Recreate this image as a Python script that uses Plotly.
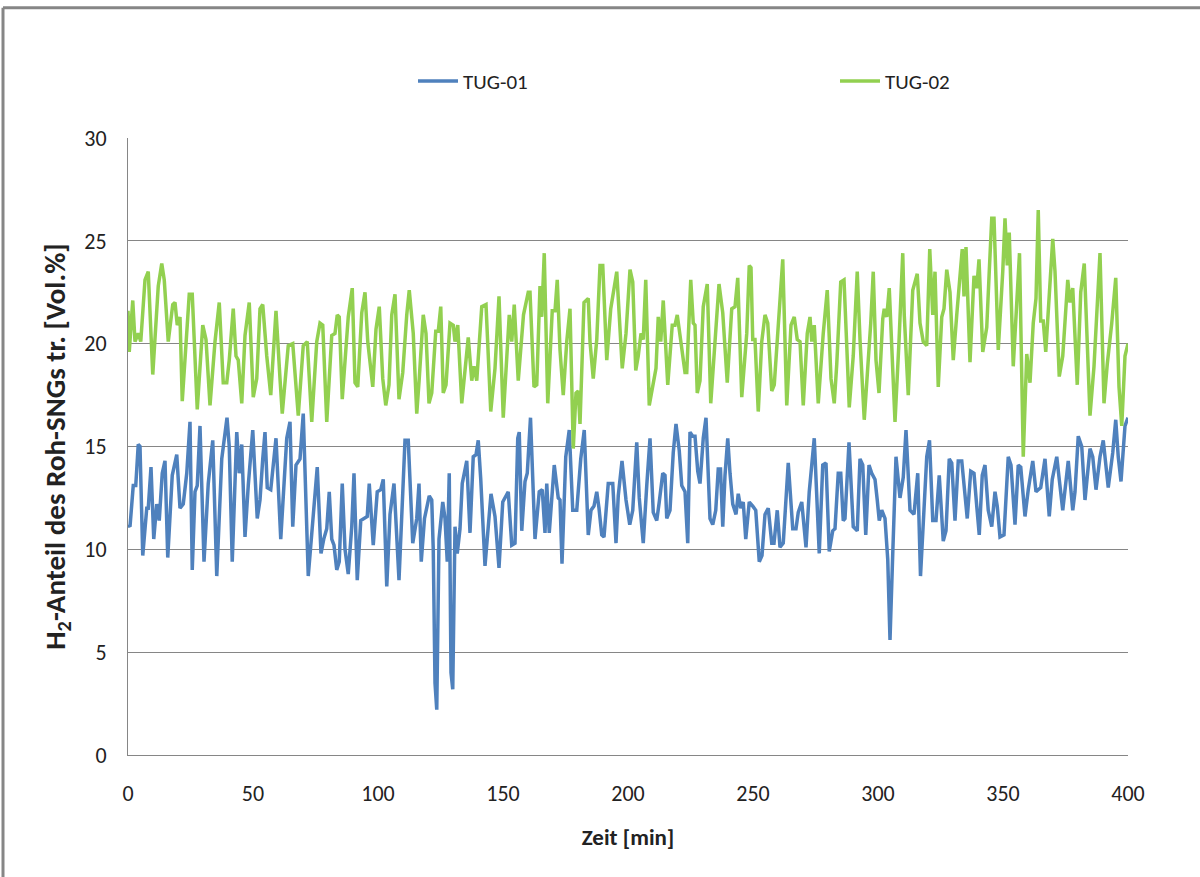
import plotly.graph_objects as go

# TUG-01 (blue) : time [min], H2 [Vol.%]
t1 = [0, 0.8, 2.1, 3.1, 4.1, 4.8, 5.9, 7.5, 8.1, 9.2, 10.3, 11.5, 12.5, 13.7, 14.8, 15.9, 17.7, 19.5, 20.8, 22.1,
      23.5, 24.8, 25.7, 26.8, 27.7, 28.8, 30.4, 32.1, 33.9, 35.5, 37.5, 39.6, 40.5, 41.7, 43.5, 44.5, 45.5, 46.8, 48.1, 49.9,
      51.7, 52.8, 53.9, 54.8, 55.7, 57.1, 59.2, 61.1, 63.5, 64.8, 65.9, 67.2, 68.8, 70.1, 72.1, 74.1, 75.7, 77.2, 78.3, 79.5,
      80.5, 81.5, 82.4, 83.5, 84.5, 85.7, 86.8, 88.1, 89.5, 90.4, 91.7, 93.1, 94.4, 95.7, 96.5, 98.1, 99.7, 101.1, 102.1, 103.5,
      104.8, 106.4, 108.4, 109.9, 110.8, 112.1, 112.5, 113.9, 115.5, 116.4, 117.3, 118.6, 120.5, 121.5, 122.1, 122.8, 123.5, 124.4, 125.9, 126.8,
      127.7, 128.5, 129.2, 129.9, 130.8, 131.7, 132.8, 133.7, 135.5, 136.8, 138.1, 139.2, 140.1, 141.1, 142.8, 145.2, 146.8, 148.4, 149.9, 152.1,
      153.5, 154.8, 155.9, 156.5, 157.5, 158.8, 159.7, 161.0, 162.8, 164.5, 165.7, 166.8, 167.5, 168.5, 170.5, 172.1, 172.8, 173.6, 175.1, 176.5,
      177.9, 179.5, 181.1, 182.5, 184.1, 185.2, 186.4, 187.5, 188.4, 189.5, 190.4, 192.1, 193.9, 195.2, 196.1, 197.6, 199.2, 200.7, 201.9, 203.5,
      204.5, 206.1, 207.5, 208.8, 210.1, 211.5, 212.5, 213.9, 214.8, 215.5, 216.8, 218.1, 219.2, 220.5, 221.5, 222.8, 223.9, 224.8, 225.9, 226.8,
      227.9, 228.8, 230.1, 231.2, 232.8, 233.9, 235.1, 236.1, 237.0, 237.9, 238.8, 239.9, 240.8, 241.9, 243.2, 244.1, 245.1, 246.1, 247.1, 248.5,
      249.9, 251.1, 252.5, 253.6, 254.8, 256.1, 257.5, 258.4, 259.7, 260.8, 262.1, 264.1, 265.9, 267.2, 268.1, 269.5, 271.2, 272.5, 274.5, 276.5,
      277.9, 279.2, 280.5, 281.9, 282.8, 284.1, 285.1, 286.1, 286.8, 288.4, 290.1, 291.7, 292.8, 293.9, 295.1, 296.4, 297.5, 298.8, 299.7, 300.5,
      301.5, 302.8, 303.9, 304.8, 305.9, 307.2, 308.8, 310.1, 311.2, 312.8, 314.4, 315.9, 317.0, 318.1, 319.5, 320.6, 321.9, 323.2, 324.5, 326.1,
      327.2, 328.5, 329.5, 330.8, 332.1, 333.5, 334.4, 335.7, 337.1, 338.4, 339.5, 340.5, 341.7, 342.8, 344.1, 345.5, 346.8, 347.7, 348.8, 350.4,
      352.1, 353.2, 354.8, 356.1, 357.1, 358.8, 360.1, 361.9, 363.2, 364.1, 365.1, 366.8, 368.5, 369.7, 371.5, 372.5, 373.9, 376.1, 377.9, 378.8,
      380.1, 381.5, 382.8, 384.8, 385.9, 387.2, 388.8, 390.1, 392.1, 393.9, 395.1, 396.1, 397.2, 398.8, 400]
v1 = [11.2, 11.1, 13.1, 13.1, 15.1, 15.0, 9.7, 12.0, 12.0, 14.0, 10.5, 12.2, 11.4, 13.7, 14.3, 9.6, 13.6, 14.6, 12.0, 12.2,
      13.7, 16.2, 9.0, 12.8, 13.1, 16.0, 9.4, 13.2, 15.3, 8.7, 14.4, 16.4, 15.0, 9.4, 15.7, 13.7, 15.1, 10.6, 13.1, 15.8,
      11.5, 12.4, 14.4, 15.7, 13.0, 12.9, 15.4, 10.5, 15.4, 16.2, 11.1, 14.1, 14.4, 16.6, 8.7, 11.6, 14.0, 9.8, 10.5, 11.0,
      12.8, 10.5, 10.2, 9.0, 9.4, 13.2, 10.0, 8.8, 11.1, 13.7, 8.5, 11.4, 11.5, 11.6, 13.2, 10.2, 12.8, 12.9, 13.4, 8.2,
      11.7, 13.2, 8.5, 12.8, 15.3, 15.3, 14.1, 10.3, 11.5, 13.2, 9.4, 11.5, 12.6, 12.4, 10.0, 3.5, 2.2, 10.5, 12.3, 11.5,
      9.4, 13.7, 4.0, 3.2, 11.1, 9.8, 11.0, 13.2, 14.3, 10.8, 14.5, 14.6, 15.3, 13.4, 9.2, 12.7, 11.6, 9.1, 12.3, 12.8,
      10.2, 10.3, 15.4, 15.7, 10.9, 13.3, 13.7, 16.4, 10.5, 12.8, 12.9, 10.8, 13.2, 10.8, 14.1, 12.5, 12.4, 9.3, 14.5, 15.8,
      11.9, 11.9, 14.4, 15.8, 10.7, 11.9, 12.1, 12.8, 12.0, 10.7, 10.6, 13.2, 13.2, 10.3, 12.6, 14.3, 12.4, 11.2, 11.9, 15.2,
      12.5, 10.3, 13.1, 15.4, 11.8, 11.4, 12.3, 13.7, 13.6, 11.5, 11.9, 14.7, 16.1, 14.8, 13.1, 12.8, 10.3, 15.7, 15.5, 15.5,
      13.8, 13.2, 15.4, 16.4, 11.5, 11.2, 11.9, 13.9, 13.9, 11.1, 13.6, 15.4, 13.7, 12.2, 11.7, 12.7, 12.0, 12.3, 10.5, 12.3,
      12.1, 11.9, 9.4, 9.7, 11.7, 12.0, 10.3, 10.3, 11.9, 10.1, 10.3, 14.2, 11.0, 11.0, 11.8, 12.3, 10.1, 12.8, 15.4, 9.8,
      14.1, 14.2, 9.9, 10.9, 11.0, 13.7, 13.7, 11.4, 11.5, 15.2, 11.1, 10.9, 14.4, 14.1, 10.7, 14.1, 13.7, 13.4, 12.4, 11.4,
      11.9, 11.5, 9.5, 5.6, 9.8, 14.5, 12.5, 13.5, 15.8, 11.9, 11.7, 13.7, 8.7, 11.3, 14.5, 15.3, 11.4, 11.4, 13.6, 10.4,
      10.9, 14.4, 14.2, 11.4, 14.3, 14.3, 13.2, 11.5, 13.8, 13.7, 12.1, 10.7, 13.6, 14.1, 11.9, 11.1, 12.8, 12.1, 10.6, 10.7,
      14.5, 14.1, 11.2, 14.1, 14.0, 11.6, 12.9, 14.3, 12.8, 12.9, 13.0, 14.4, 11.6, 13.4, 14.5, 13.4, 11.9, 14.3, 11.9, 12.8,
      15.5, 15.0, 12.4, 14.9, 14.5, 12.9, 14.5, 15.3, 13.0, 14.7, 16.3, 14.5, 13.3, 16.0, 16.4]

# TUG-02 (green)
t2 = [0, 0.5, 1.9, 2.8, 4.1, 5.1, 6.8, 8.1, 9.9, 12.1, 13.5, 14.5, 16.1, 17.9, 18.8, 19.7, 20.8, 21.7, 24.5, 25.7,
      27.7, 29.9, 31.2, 32.8, 34.8, 36.5, 38.1, 39.5, 40.5, 42.1, 43.2, 44.1, 45.5, 46.8, 48.5, 50.1, 51.5, 52.8, 53.9, 55.5,
      57.1, 59.2, 60.8, 61.7, 64.1, 65.9, 68.1, 70.1, 71.7, 73.5, 75.5, 76.8, 77.9, 79.5, 81.5, 82.8, 83.7, 84.5, 85.7, 88.1,
      89.7, 90.8, 91.9, 93.5, 94.8, 95.9, 97.9, 99.2, 100.5, 101.9, 103.1, 104.4, 105.5, 106.8, 108.4, 109.9, 111.5, 112.5, 114.1, 115.5,
      116.5, 118.1, 119.2, 120.4, 121.5, 123.1, 124.1, 125.1, 126.1, 127.2, 128.8, 130.1, 130.8, 131.9, 133.5, 134.4, 136.1, 137.5, 138.4, 139.5,
      141.5, 143.2, 145.1, 146.8, 148.4, 150.1, 152.5, 153.5, 154.5, 156.1, 158.2, 160.1, 160.8, 162.4, 163.5, 164.8, 165.5, 166.5, 167.9, 169.7,
      170.8, 171.7, 172.8, 174.1, 175.5, 176.8, 178.1, 179.2, 180.1, 180.8, 182.4, 184.1, 184.8, 186.1, 187.5, 188.8, 189.9, 191.5, 193.1, 195.5,
      197.7, 199.2, 200.8, 201.9, 203.1, 204.1, 205.2, 206.1, 207.1, 208.5, 210.1, 211.2, 212.1, 213.1, 214.1, 215.9, 217.7, 218.8, 219.7, 220.8,
      222.8, 223.5, 225.1, 226.1, 226.8, 227.7, 228.8, 230.1, 231.7, 233.1, 234.8, 236.4, 237.9, 239.7, 241.5, 242.8, 243.9, 245.5, 247.5, 248.5,
      249.2, 249.9, 250.8, 252.1, 253.5, 254.8, 255.9, 257.5, 258.5, 259.7, 260.8, 261.9, 263.5, 265.2, 266.5, 267.7, 268.8, 270.1, 271.7, 272.8,
      273.5, 274.5, 276.1, 278.1, 279.7, 281.2, 282.5, 283.5, 285.1, 286.4, 287.5, 288.5, 290.1, 291.7, 292.8, 294.5, 296.1, 297.1, 298.1, 299.2,
      300.4, 301.9, 302.5, 303.5, 304.5, 305.5, 306.8, 308.4, 309.9, 310.5, 312.1, 313.9, 315.7, 316.8, 318.1, 319.5, 320.7, 321.9, 322.8, 324.1,
      325.5, 326.4, 327.5, 328.8, 330.1, 331.5, 332.8, 333.7, 334.4, 335.2, 336.8, 338.4, 339.5, 340.4, 341.9, 343.5, 344.5, 345.5, 346.4, 348.1,
      349.9, 350.8, 351.7, 352.5, 354.1, 355.5, 356.6, 358.1, 359.5, 360.8, 362.1, 363.2, 364.1, 365.1, 366.1, 367.1, 368.1, 369.9, 370.8, 372.5,
      373.9, 375.9, 376.8, 377.9, 379.7, 381.1, 382.5, 383.5, 384.8, 386.4, 387.7, 388.8, 390.4, 391.7, 393.5, 395.1, 396.4, 397.5, 398.8, 400]
v2 = [21.6, 19.6, 22.1, 20.1, 20.5, 20.1, 23.1, 23.5, 18.5, 22.8, 23.9, 23.1, 20.1, 21.9, 22.0, 20.9, 21.3, 17.2, 22.4, 22.4,
      16.8, 20.9, 20.2, 17.0, 20.1, 22.0, 18.1, 18.1, 19.2, 21.7, 19.4, 19.2, 17.1, 20.4, 22.0, 17.4, 18.3, 21.7, 21.9, 19.4,
      17.5, 21.6, 18.3, 16.6, 19.9, 20.0, 16.5, 19.9, 20.1, 16.2, 20.1, 21.0, 20.9, 16.2, 20.4, 20.5, 21.4, 21.3, 17.3, 21.3,
      22.7, 18.1, 17.9, 21.5, 22.5, 20.1, 17.9, 20.7, 21.8, 18.3, 17.0, 18.0, 21.4, 22.4, 17.3, 18.6, 21.4, 22.6, 20.5, 16.6,
      18.3, 21.4, 20.5, 17.1, 17.6, 20.6, 20.6, 21.8, 17.6, 18.0, 21.0, 20.9, 20.1, 20.9, 17.1, 18.2, 20.3, 18.2, 18.9, 18.2,
      21.8, 21.9, 16.7, 18.8, 22.3, 16.4, 21.4, 20.1, 21.9, 18.2, 21.4, 22.5, 22.5, 17.9, 18.0, 22.8, 21.3, 24.4, 17.1, 21.6,
      21.6, 23.1, 19.7, 17.5, 20.1, 21.7, 14.9, 17.6, 17.7, 16.1, 22.0, 22.2, 20.1, 18.3, 20.2, 23.8, 23.8, 19.2, 21.7, 23.5,
      18.8, 20.5, 23.6, 23.0, 18.7, 19.4, 20.5, 20.2, 23.1, 17.0, 18.0, 18.8, 21.3, 20.1, 22.1, 18.0, 20.9, 20.9, 21.4, 20.5,
      18.6, 18.6, 23.1, 21.0, 20.9, 17.6, 18.2, 21.8, 22.9, 17.1, 20.2, 22.9, 21.5, 18.1, 21.7, 21.8, 23.2, 17.4, 20.5, 23.8,
      23.7, 20.2, 20.2, 16.7, 20.1, 21.4, 21.0, 17.7, 18.0, 20.4, 22.5, 24.1, 17.0, 20.9, 21.3, 20.2, 20.1, 17.0, 20.5, 21.3,
      20.1, 20.9, 17.1, 20.5, 22.6, 18.3, 17.1, 19.0, 23.0, 23.1, 19.9, 16.9, 19.4, 23.5, 20.2, 16.3, 19.2, 21.0, 23.5, 19.2,
      17.6, 21.2, 21.7, 21.3, 22.7, 20.1, 16.2, 20.1, 24.4, 21.4, 17.5, 22.6, 23.4, 21.0, 20.1, 19.9, 24.6, 21.4, 23.5, 17.9,
      21.3, 21.7, 23.6, 22.5, 19.2, 21.4, 23.5, 24.6, 22.3, 24.7, 19.1, 23.3, 22.7, 24.1, 19.6, 20.8, 23.5, 26.1, 26.1, 19.7,
      23.5, 26.1, 23.8, 25.4, 18.9, 21.8, 24.4, 14.5, 19.5, 18.1, 21.0, 22.2, 26.5, 21.1, 21.1, 19.6, 21.4, 25.1, 23.5, 18.4,
      19.4, 23.1, 22.0, 22.7, 18.0, 22.5, 23.9, 20.5, 16.5, 18.9, 22.0, 24.4, 17.1, 19.0, 21.0, 23.2, 17.9, 16.0, 19.4, 20.0]

x_ticks = [0, 50, 100, 150, 200, 250, 300, 350, 400]
y_ticks = [0, 5, 10, 15, 20, 25, 30]

FONT = "Carlito, 'Liberation Sans Narrow', 'Liberation Sans', Arial, sans-serif"

fig = go.Figure()
fig.add_trace(go.Scatter(x=t1, y=v1, mode="lines", name="TUG-01", legend="legend",
                         line=dict(color="#4F81BD", width=3.5)))
fig.add_trace(go.Scatter(x=t2, y=v2, mode="lines", name="TUG-02", legend="legend2",
                         line=dict(color="#92D050", width=3.5)))

leg_common = dict(orientation="h", yanchor="middle", y=1.092, xanchor="left",
                  font=dict(size=21, color="#222"), bgcolor="rgba(0,0,0,0)",
                  itemwidth=40)

fig.update_layout(
    width=1200, height=877,
    margin=dict(l=128, r=72, t=138, b=122),
    paper_bgcolor="white", plot_bgcolor="white",
    font=dict(family=FONT, size=21, color="#222"),
    showlegend=True,
    legend=dict(x=0.285, **leg_common),
    legend2=dict(x=0.707, **leg_common),
    xaxis=dict(range=[0, 400], tickvals=x_ticks, showgrid=False, zeroline=False,
               showline=True, linecolor="#868686", linewidth=1, ticks="",
               tickfont=dict(size=22), ticklabelstandoff=19,
               title=dict(text="<b>Zeit [min]</b>", font=dict(size=23), standoff=22)),
    yaxis=dict(range=[0, 30], tickvals=y_ticks, showgrid=True, gridcolor="#868686",
               gridwidth=1, zeroline=False, showline=True, linecolor="#868686",
               linewidth=1, ticks="", tickfont=dict(size=22), ticklabelstandoff=16,
               title=dict(text="<b>H<sub>2</sub>-Anteil des Roh-SNGs tr. [Vol.%]</b>",
                          font=dict(size=29), standoff=10)),
    shapes=[
        dict(type="line", xref="paper", yref="paper", x0=-0.125, x1=-0.125, y0=-0.3, y1=1.211,
             line=dict(color="#868686", width=3)),
        dict(type="line", xref="paper", yref="paper", x0=-0.125, x1=1.1, y0=1.211, y1=1.211,
             line=dict(color="#868686", width=3)),
    ],
)

fig.write_html("out.html", config={"displayModeBar": False},
               post_script="document.body.style.margin='0';")
